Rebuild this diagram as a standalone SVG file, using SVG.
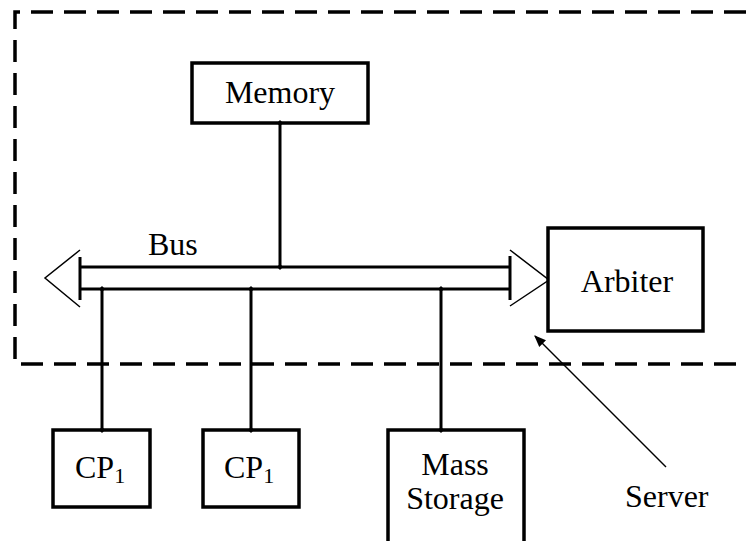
<svg xmlns="http://www.w3.org/2000/svg" width="746" height="541" viewBox="0 0 746 541">
<defs>
<style>
.box{fill:#fff;stroke:#000;stroke-width:3.5}
.t{font-family:"Liberation Serif","DejaVu Serif",serif;font-size:32px;fill:#000}
.sub{font-size:22px}
.wire{stroke:#000;stroke-width:3;fill:none}
.thin{stroke:#000;stroke-width:1.5;fill:none}
.dash{stroke:#000;stroke-width:3.5;fill:none;stroke-dasharray:22 11}
</style>
<marker id="dot" viewBox="0 0 6 6" refX="3" refY="3" markerWidth="6" markerHeight="6" markerUnits="userSpaceOnUse">
<path d="M3,0 L6,3 L3,6 L0,3 Z" fill="#000"/>
</marker>
<marker id="arr" viewBox="0 0 10 10" refX="9" refY="5" markerWidth="12" markerHeight="12" orient="auto" markerUnits="userSpaceOnUse">
<path d="M0,1 L10,5 L0,9 Z" fill="#000"/>
</marker>
</defs>
<rect width="746" height="541" fill="#fff"/>
<g id="server-boundary">
<path class="dash" d="M746,12 H15 V364 H746"/>
</g>
<g id="bus">
<path class="wire" d="M80,267 H510 M80,289 H510"/>
<path class="wire" stroke-width="3.5" d="M80,257 V300 M510,256 V300"/>
<path class="thin" stroke-width="2" d="M80,250 L45,278 L80,307"/>
<path class="thin" stroke-width="2" d="M510,250 L549,280 L510,306"/>
<text class="t" x="148" y="255">Bus</text>
</g>
<g id="memory">
<rect class="box" x="192" y="63" width="176" height="60"/>
<text class="t" x="280" y="103" text-anchor="middle">Memory</text>
</g>
<g id="arbiter">
<rect class="box" x="548" y="228" width="155" height="103"/>
<text class="t" x="627" y="292" text-anchor="middle">Arbiter</text>
</g>
<g id="cp1a">
<rect class="box" x="53" y="430" width="97" height="77"/>
<text class="t" x="75" y="478">CP<tspan class="sub" dy="5">1</tspan></text>
</g>
<g id="cp1b">
<rect class="box" x="203" y="430" width="96" height="77"/>
<text class="t" x="224" y="478">CP<tspan class="sub" dy="5">1</tspan></text>
</g>
<g id="mass-storage">
<rect class="box" x="388" y="430" width="136" height="115"/>
<text class="t" x="455" y="475" text-anchor="middle">Mass</text>
<text class="t" x="455" y="509" text-anchor="middle">Storage</text>
</g>
<g id="server-label">
<text class="t" x="625" y="507">Server</text>
</g>
<g id="connectors">
<path class="wire" d="M280,123 V267" marker-start="url(#dot)" marker-end="url(#dot)"/>
<path class="wire" d="M102,289 V430" marker-start="url(#dot)" marker-end="url(#dot)"/>
<path class="wire" d="M251,289 V430" marker-start="url(#dot)" marker-end="url(#dot)"/>
<path class="wire" d="M441,289 V430" marker-start="url(#dot)" marker-end="url(#dot)"/>
<path class="thin" d="M666,467 L535,336" marker-end="url(#arr)"/>
</g>
</svg>
